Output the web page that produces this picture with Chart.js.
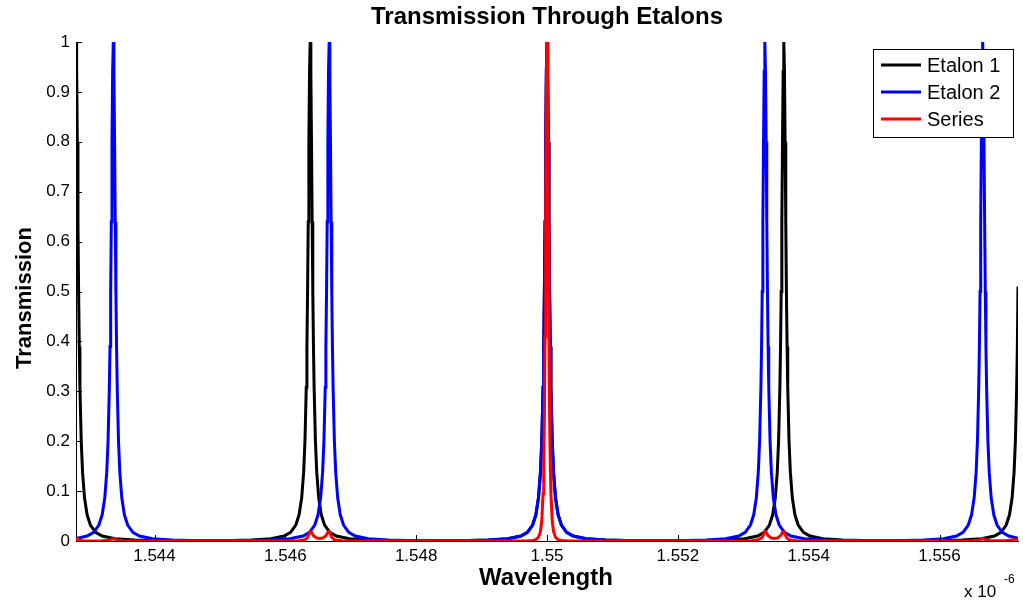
<!DOCTYPE html>
<html>
<head>
<meta charset="utf-8">
<title>Transmission Through Etalons</title>
<script src="https://cdn.jsdelivr.net/npm/chart.js@4.4.1/dist/chart.umd.min.js"></script>
<style>
  html, body { margin: 0; padding: 0; background: #fff; }
  #wrap { width: 1023px; height: 602px; }
</style>
</head>
<body>
<div id="wrap"><canvas id="etalonChart" width="1023" height="602"></canvas></div>
<script>
/* =====================================================
   DATA (wavelength in units of 1e-6 m, transmission 0..1)
===================================================== */
const xTicks = [1.544, 1.546, 1.548, 1.55, 1.552, 1.554, 1.556];
const xTickLabels = ["1.544", "1.546", "1.548", "1.55", "1.552", "1.554", "1.556"];
const yTicks = [0, 0.1, 0.2, 0.3, 0.4, 0.5, 0.6, 0.7, 0.8, 0.9, 1];
const yTickLabels = ["0", "0.1", "0.2", "0.3", "0.4", "0.5", "0.6", "0.7", "0.8", "0.9", "1"];
const seriesNames = ["Etalon 1", "Etalon 2", "Series"];

// Etalon 1 (black) - [wavelength, transmission]
const etalon1 = [
  [1.5428, 1], [1.54281, 0.941], [1.54282, 0.8], [1.54283, 0.64], [1.54284, 0.5],
  [1.54285, 0.39], [1.54286, 0.308], [1.54288, 0.2], [1.5429, 0.138], [1.54293, 0.0865],
  [1.54297, 0.0525], [1.54302, 0.032], [1.5431, 0.0175], [1.5432, 0.0099], [1.5434, 0.0044],
  [1.5437, 0.002], [1.544, 0.0011], [1.54459, 0.001],
  [1.54518, 0.0011], [1.54548, 0.002], [1.54578, 0.0044], [1.54598, 0.0099], [1.54608, 0.0175],
  [1.54616, 0.032], [1.54621, 0.0525], [1.54625, 0.0865], [1.54628, 0.138], [1.5463, 0.2],
  [1.54632, 0.308], [1.54633, 0.39], [1.54634, 0.5], [1.54635, 0.64], [1.54636, 0.8],
  [1.54637, 0.941], [1.54638, 1], [1.54639, 0.941], [1.5464, 0.8], [1.54641, 0.64],
  [1.54642, 0.5], [1.54643, 0.39], [1.54644, 0.308], [1.54646, 0.2], [1.54648, 0.138],
  [1.54651, 0.0865], [1.54655, 0.0525], [1.5466, 0.032], [1.54668, 0.0175], [1.54678, 0.0099],
  [1.54698, 0.0044], [1.54728, 0.002], [1.54758, 0.0011], [1.54819, 0.001],
  [1.5488, 0.0011], [1.5491, 0.002], [1.5494, 0.0044], [1.5496, 0.0099], [1.5497, 0.0175],
  [1.54978, 0.032], [1.54983, 0.0525], [1.54987, 0.0865], [1.5499, 0.138], [1.54992, 0.2],
  [1.54994, 0.308], [1.54995, 0.39], [1.54996, 0.5], [1.54997, 0.64], [1.54998, 0.8],
  [1.54999, 0.941], [1.55, 1], [1.55001, 0.941], [1.55002, 0.8], [1.55003, 0.64],
  [1.55004, 0.5], [1.55005, 0.39], [1.55006, 0.308], [1.55008, 0.2], [1.5501, 0.138],
  [1.55013, 0.0865], [1.55017, 0.0525], [1.55022, 0.032], [1.5503, 0.0175], [1.5504, 0.0099],
  [1.5506, 0.0044], [1.5509, 0.002], [1.5512, 0.0011], [1.55181, 0.001],
  [1.55242, 0.0011], [1.55272, 0.002], [1.55302, 0.0044], [1.55322, 0.0099], [1.55332, 0.0175],
  [1.5534, 0.032], [1.55345, 0.0525], [1.55349, 0.0865], [1.55352, 0.138], [1.55354, 0.2],
  [1.55356, 0.308], [1.55357, 0.39], [1.55358, 0.5], [1.55359, 0.64], [1.5536, 0.8],
  [1.55361, 0.941], [1.55362, 1], [1.55363, 0.941], [1.55364, 0.8], [1.55365, 0.64],
  [1.55366, 0.5], [1.55367, 0.39], [1.55368, 0.308], [1.5537, 0.2], [1.55372, 0.138],
  [1.55375, 0.0865], [1.55379, 0.0525], [1.55384, 0.032], [1.55392, 0.0175], [1.55402, 0.0099],
  [1.55422, 0.0044], [1.55452, 0.002], [1.55482, 0.0011], [1.55543, 0.001],
  [1.55604, 0.0011], [1.55634, 0.002], [1.55664, 0.0044], [1.55684, 0.0099], [1.55694, 0.0175],
  [1.55702, 0.032], [1.55707, 0.0525], [1.55711, 0.0865], [1.55714, 0.138], [1.55716, 0.2],
  [1.55718, 0.308], [1.55719, 0.39], [1.5572, 0.51]
];

// Etalon 2 (blue)
const etalon2 = [
  [1.5428, 0.0049], [1.54297, 0.0099], [1.54307, 0.0175], [1.54315, 0.032], [1.5432, 0.0525],
  [1.54324, 0.0865], [1.54327, 0.138], [1.54329, 0.2], [1.54331, 0.308], [1.54332, 0.39],
  [1.54333, 0.5], [1.54334, 0.64], [1.54335, 0.8], [1.54336, 0.941], [1.54337, 1],
  [1.54338, 0.941], [1.54339, 0.8], [1.5434, 0.64], [1.54341, 0.5], [1.54342, 0.39],
  [1.54343, 0.308], [1.54345, 0.2], [1.54347, 0.138], [1.5435, 0.0865], [1.54354, 0.0525],
  [1.54359, 0.032], [1.54367, 0.0175], [1.54377, 0.0099], [1.54397, 0.0044], [1.54427, 0.002],
  [1.54457, 0.0011], [1.54502, 0.001],
  [1.54547, 0.0011], [1.54577, 0.002], [1.54607, 0.0044], [1.54627, 0.0099], [1.54637, 0.0175],
  [1.54645, 0.032], [1.5465, 0.0525], [1.54654, 0.0865], [1.54657, 0.138], [1.54659, 0.2],
  [1.54661, 0.308], [1.54662, 0.39], [1.54663, 0.5], [1.54664, 0.64], [1.54665, 0.8],
  [1.54666, 0.941], [1.54667, 1], [1.54668, 0.941], [1.54669, 0.8], [1.5467, 0.64],
  [1.54671, 0.5], [1.54672, 0.39], [1.54673, 0.308], [1.54675, 0.2], [1.54677, 0.138],
  [1.5468, 0.0865], [1.54684, 0.0525], [1.54689, 0.032], [1.54697, 0.0175], [1.54707, 0.0099],
  [1.54727, 0.0044], [1.54757, 0.002], [1.54787, 0.0011], [1.54834, 0.001],
  [1.5488, 0.0011], [1.5491, 0.002], [1.5494, 0.0044], [1.5496, 0.0099], [1.5497, 0.0175],
  [1.54978, 0.032], [1.54983, 0.0525], [1.54987, 0.0865], [1.5499, 0.138], [1.54992, 0.2],
  [1.54994, 0.308], [1.54995, 0.39], [1.54996, 0.5], [1.54997, 0.64], [1.54998, 0.8],
  [1.54999, 0.941], [1.55, 1], [1.55001, 0.941], [1.55002, 0.8], [1.55003, 0.64],
  [1.55004, 0.5], [1.55005, 0.39], [1.55006, 0.308], [1.55008, 0.2], [1.5501, 0.138],
  [1.55013, 0.0865], [1.55017, 0.0525], [1.55022, 0.032], [1.5503, 0.0175], [1.5504, 0.0099],
  [1.5506, 0.0044], [1.5509, 0.002], [1.5512, 0.0011], [1.55167, 0.001],
  [1.55213, 0.0011], [1.55243, 0.002], [1.55273, 0.0044], [1.55293, 0.0099], [1.55303, 0.0175],
  [1.55311, 0.032], [1.55316, 0.0525], [1.5532, 0.0865], [1.55323, 0.138], [1.55325, 0.2],
  [1.55327, 0.308], [1.55328, 0.39], [1.55329, 0.5], [1.5533, 0.64], [1.55331, 0.8],
  [1.55332, 0.941], [1.55333, 1], [1.55334, 0.941], [1.55335, 0.8], [1.55336, 0.64],
  [1.55337, 0.5], [1.55338, 0.39], [1.55339, 0.308], [1.55341, 0.2], [1.55343, 0.138],
  [1.55346, 0.0865], [1.5535, 0.0525], [1.55355, 0.032], [1.55363, 0.0175], [1.55373, 0.0099],
  [1.55393, 0.0044], [1.55423, 0.002], [1.55453, 0.0011], [1.555, 0.001],
  [1.55546, 0.0011], [1.55576, 0.002], [1.55606, 0.0044], [1.55626, 0.0099], [1.55636, 0.0175],
  [1.55644, 0.032], [1.55649, 0.0525], [1.55653, 0.0865], [1.55656, 0.138], [1.55658, 0.2],
  [1.5566, 0.308], [1.55661, 0.39], [1.55662, 0.5], [1.55663, 0.64], [1.55664, 0.8],
  [1.55665, 0.941], [1.55666, 1], [1.55667, 0.941], [1.55668, 0.8], [1.55669, 0.64],
  [1.5567, 0.5], [1.55671, 0.39], [1.55672, 0.308], [1.55674, 0.2], [1.55676, 0.138],
  [1.55679, 0.0865], [1.55683, 0.0525], [1.55688, 0.032], [1.55696, 0.0175], [1.55706, 0.0099],
  [1.5572, 0.0055]
];

// Series (red) - both etalons in a row
const seriesPair = [
  [1.5428, 0.0049], [1.54284, 0.0025], [1.5429, 0.0007], [1.5431, 0.0002], [1.5432, 0.0005],
  [1.54331, 0.0017], [1.54335, 0.0039], [1.54337, 0.0049], [1.54339, 0.0039], [1.54343, 0.0017],
  [1.5435, 0.0006], [1.5438, 0.0001], [1.5445, 0], [1.546, 0.0001], [1.5462, 0.0003],
  [1.5463, 0.0023], [1.54634, 0.0072], [1.54636, 0.0131], [1.54638, 0.0187], [1.5464, 0.0172],
  [1.54643, 0.0105], [1.54648, 0.0058], [1.546525, 0.005], [1.54657, 0.0058], [1.54662, 0.0105],
  [1.54665, 0.0172], [1.54667, 0.0187], [1.54669, 0.0131], [1.54671, 0.0072], [1.54675, 0.0023],
  [1.54685, 0.0003], [1.54705, 0.0001], [1.5492, 0], [1.5496, 0.0001], [1.5497, 0.0003],
  [1.54978, 0.001], [1.54983, 0.0028], [1.54987, 0.0075], [1.5499, 0.019], [1.54992, 0.04],
  [1.54994, 0.095], [1.54995, 0.152], [1.54996, 0.25], [1.54997, 0.41], [1.54998, 0.64],
  [1.54999, 0.885], [1.55, 1], [1.55001, 0.885], [1.55002, 0.64], [1.55003, 0.41],
  [1.55004, 0.25], [1.55005, 0.152], [1.55006, 0.095], [1.55008, 0.04], [1.5501, 0.019],
  [1.55013, 0.0075], [1.55017, 0.0028], [1.55022, 0.001], [1.5503, 0.0003], [1.5504, 0.0001],
  [1.5508, 0], [1.55295, 0.0001], [1.55313, 0.0003], [1.55323, 0.0023], [1.55329, 0.0072],
  [1.55331, 0.0131], [1.55333, 0.0187], [1.55335, 0.0172], [1.55338, 0.0105], [1.55343, 0.0058],
  [1.553475, 0.005], [1.55352, 0.0058], [1.55357, 0.0105], [1.5536, 0.0172], [1.55362, 0.0187],
  [1.55364, 0.0131], [1.55366, 0.0072], [1.5537, 0.0023], [1.5538, 0.0003], [1.554, 0.0001],
  [1.5562, 0], [1.5565, 0.0006], [1.5566, 0.0017], [1.55664, 0.0039], [1.55666, 0.0049],
  [1.55668, 0.0039], [1.55672, 0.0017], [1.5568, 0.0006], [1.557, 0.0005], [1.5572, 0.0028]
];

const lineColors = ["#000000", "#0000ff", "#ff0000"];

/* =====================================================
   HELPERS
===================================================== */
const FONT = '"Liberation Sans", Arial, Helvetica, sans-serif';

function toPoints(pairs) {
  return pairs.map(p => ({ x: p[0], y: p[1] }));
}

/* =====================================================
   EXTRA DRAWING (titles, inward ticks, legend)
===================================================== */
const matlabLook = {
  id: "matlabLook",
  afterDraw(chart) {
    const ctx = chart.ctx;
    const area = chart.chartArea;
    const xs = chart.scales.x;
    const ys = chart.scales.y;

    ctx.save();

    // inward tick marks
    ctx.strokeStyle = "#000";
    ctx.lineWidth = 1;
    ctx.beginPath();
    yTicks.forEach(v => {
      const py = Math.round(ys.getPixelForValue(v)) + 0.5;
      ctx.moveTo(area.left, py);
      ctx.lineTo(area.left + 6, py);
    });
    xTicks.forEach(v => {
      const px = Math.round(xs.getPixelForValue(v)) + 0.5;
      ctx.moveTo(px, area.bottom);
      ctx.lineTo(px, area.bottom - 6);
    });
    ctx.stroke();

    // title
    ctx.fillStyle = "#000";
    ctx.textAlign = "center";
    ctx.textBaseline = "middle";
    ctx.font = "bold 24px " + FONT;
    ctx.fillText("Transmission Through Etalons", 547, 17);

    // x label
    ctx.font = "bold 24px " + FONT;
    ctx.fillText("Wavelength", 546, 578);

    // y label
    ctx.save();
    ctx.font = "bold 22px " + FONT;
    ctx.translate(25, 298);
    ctx.rotate(-Math.PI / 2);
    ctx.fillText("Transmission", 0, 0);
    ctx.restore();

    // exponent
    ctx.textAlign = "left";
    ctx.textBaseline = "alphabetic";
    ctx.font = "17px " + FONT;
    ctx.fillText("x 10", 964, 597);
    ctx.font = "12px " + FONT;
    ctx.fillText("-6", 1004, 583);

    // legend
    const lx = 873, ly = 49, lw = 140, lh = 88;
    ctx.fillStyle = "#fff";
    ctx.fillRect(lx, ly, lw, lh);
    ctx.strokeStyle = "#000";
    ctx.lineWidth = 1;
    ctx.strokeRect(lx + 0.5, ly + 0.5, lw, lh);
    const rows = [65, 92, 119];
    ctx.font = "20px " + FONT;
    ctx.textBaseline = "middle";
    seriesNames.forEach((name, i) => {
      ctx.strokeStyle = lineColors[i];
      ctx.lineWidth = 3;
      ctx.beginPath();
      ctx.moveTo(881, rows[i]);
      ctx.lineTo(921, rows[i]);
      ctx.stroke();
      ctx.fillStyle = "#000";
      ctx.fillText(name, 927, rows[i] + 1);
    });

    ctx.restore();
  }
};

/* =====================================================
   CHART
===================================================== */
new Chart(document.getElementById("etalonChart"), {
  type: "line",
  data: {
    datasets: [
      {
        label: seriesNames[0],
        data: toPoints(etalon1),
        borderColor: lineColors[0],
        borderWidth: 3,
        pointRadius: 0,
        tension: 0,
        fill: false,
        order: 3
      },
      {
        label: seriesNames[1],
        data: toPoints(etalon2),
        borderColor: lineColors[1],
        borderWidth: 3,
        pointRadius: 0,
        tension: 0,
        fill: false,
        order: 2
      },
      {
        label: seriesNames[2],
        data: toPoints(seriesPair),
        borderColor: lineColors[2],
        borderWidth: 3,
        pointRadius: 0,
        tension: 0,
        fill: false,
        order: 1
      }
    ]
  },
  options: {
    responsive: false,
    animation: false,
    devicePixelRatio: 1,
    layout: { padding: { top: 42, right: 5, left: 0, bottom: 0 } },
    plugins: {
      legend: { display: false },
      title: { display: false },
      tooltip: { enabled: false }
    },
    scales: {
      x: {
        type: "linear",
        min: 1.5428,
        max: 1.5572,
        afterBuildTicks: s => { s.ticks = xTicks.map(v => ({ value: v })); },
        afterFit: s => { s.height = 61; },
        grid: { display: false, drawTicks: false },
        border: { display: true, color: "#000", width: 1 },
        ticks: {
          padding: 5,
          color: "#000",
          font: { family: FONT, size: 17 },
          maxRotation: 0,
          autoSkip: false,
          callback: v => {
            const i = xTicks.findIndex(t => Math.abs(t - v) < 1e-9);
            return i >= 0 ? xTickLabels[i] : "";
          }
        }
      },
      y: {
        min: 0,
        max: 1,
        afterBuildTicks: s => { s.ticks = yTicks.map(v => ({ value: v })); },
        afterFit: s => { s.width = 76; },
        grid: { display: false, drawTicks: false },
        border: { display: true, color: "#000", width: 1 },
        ticks: {
          padding: 6,
          color: "#000",
          font: { family: FONT, size: 17 },
          autoSkip: false,
          callback: v => {
            const i = yTicks.findIndex(t => Math.abs(t - v) < 1e-9);
            return i >= 0 ? yTickLabels[i] : "";
          }
        }
      }
    }
  },
  plugins: [matlabLook]
});
</script>
</body>
</html>
